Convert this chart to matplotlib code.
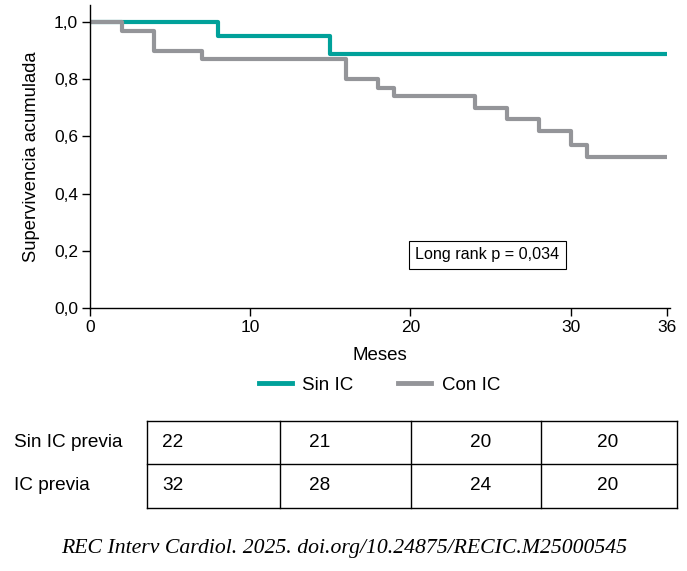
import matplotlib.pyplot as plt

plt.rcParams['font.family'] = ['Liberation Sans', 'DejaVu Sans']

# Kaplan-Meier steps (months, cumulative survival)
sin_ic_t = [0, 8, 15, 36]
sin_ic_s = [1.0, 0.95, 0.89, 0.89]
con_ic_t = [0, 2, 4, 7, 16, 18, 19, 24, 26, 28, 30, 31, 36]
con_ic_s = [1.0, 0.97, 0.90, 0.87, 0.80, 0.77, 0.74, 0.70, 0.66, 0.62, 0.57, 0.53, 0.53]

x_ticks = [0, 10, 20, 30, 36]
y_ticks = [0.0, 0.2, 0.4, 0.6, 0.8, 1.0]

# patients at risk
row_labels = ['Sin IC previa', 'IC previa']
at_risk_sin = [22, 21, 20, 20]
at_risk_con = [32, 28, 24, 20]

teal = '#00a19a'
grey = '#949599'

W, H = 687, 571
fig = plt.figure(figsize=(W / 100, H / 100), dpi=100)
ax = fig.add_axes([89.8 / W, (H - 308) / H, 580.3 / W, 303 / H])

ax.step(sin_ic_t, sin_ic_s, where='post', color=teal, lw=3.0, solid_capstyle='butt')
ax.step(con_ic_t, con_ic_s, where='post', color=grey, lw=3.0, solid_capstyle='butt')

ax.set_xlim(0, 36.2)
ax.set_ylim(0, 1.06)
ax.set_xticks(x_ticks)
ax.set_xticklabels([str(v) for v in x_ticks])
ax.set_yticks(y_ticks)
ax.set_yticklabels([f'{v:.1f}'.replace('.', ',') for v in y_ticks])
ax.tick_params(labelsize=12.5, length=6, width=1, direction='out', pad=2.5)
for s in ['top', 'right']:
    ax.spines[s].set_visible(False)
for s in ['left', 'bottom']:
    ax.spines[s].set_linewidth(1)

ax.set_xlabel('Meses', fontsize=13.5, labelpad=9)
ax.set_ylabel('Supervivencia acumulada', fontsize=13.2, labelpad=10)

ax.text(24.8, 0.186, 'Long rank p = 0,034', fontsize=11.6, ha='center', va='center',
        bbox=dict(boxstyle='square,pad=0.4', fc='white', ec='black', lw=0.8))

# legend
leg = ax.legend(handles=[plt.Line2D([], [], color=teal, lw=3.5),
                         plt.Line2D([], [], color=grey, lw=3.5)],
                labels=['Sin IC', 'Con IC'], loc='center', bbox_to_anchor=(379.5 / W, (H - 385) / H),
                bbox_transform=fig.transFigure, ncol=2, frameon=False, fontsize=13.5,
                handlelength=1.76, columnspacing=2.4, handletextpad=0.55)

# at-risk table
tx = fig.add_axes([0, 0, 1, 1])
tx.set_xlim(0, W)
tx.set_ylim(H, 0)
tx.axis('off')
col_edges = [147, 280, 411, 541, 677]
row_edges = [421, 464, 508]
for y in row_edges:
    tx.plot([col_edges[0], col_edges[-1]], [y, y], color='black', lw=1)
for x in col_edges:
    tx.plot([x, x], [row_edges[0], row_edges[-1]], color='black', lw=1)
text_x = [173, 320, 481, 608]
for r, vals in enumerate([at_risk_sin, at_risk_con]):
    yc = (row_edges[r] + row_edges[r + 1]) / 2
    tx.text(14, yc, row_labels[r], fontsize=13.7, ha='left', va='center')
    for xv, v in zip(text_x, vals):
        tx.text(xv, yc, str(v), fontsize=13.7, ha='center', va='center')

tx.text(W / 2 + 1, 548, 'REC Interv Cardiol. 2025. doi.org/10.24875/RECIC.M25000545',
        fontsize=15.7, ha='center', va='center', style='italic',
        family=['Liberation Serif', 'DejaVu Serif'])

fig.savefig('out.png', dpi=100)
